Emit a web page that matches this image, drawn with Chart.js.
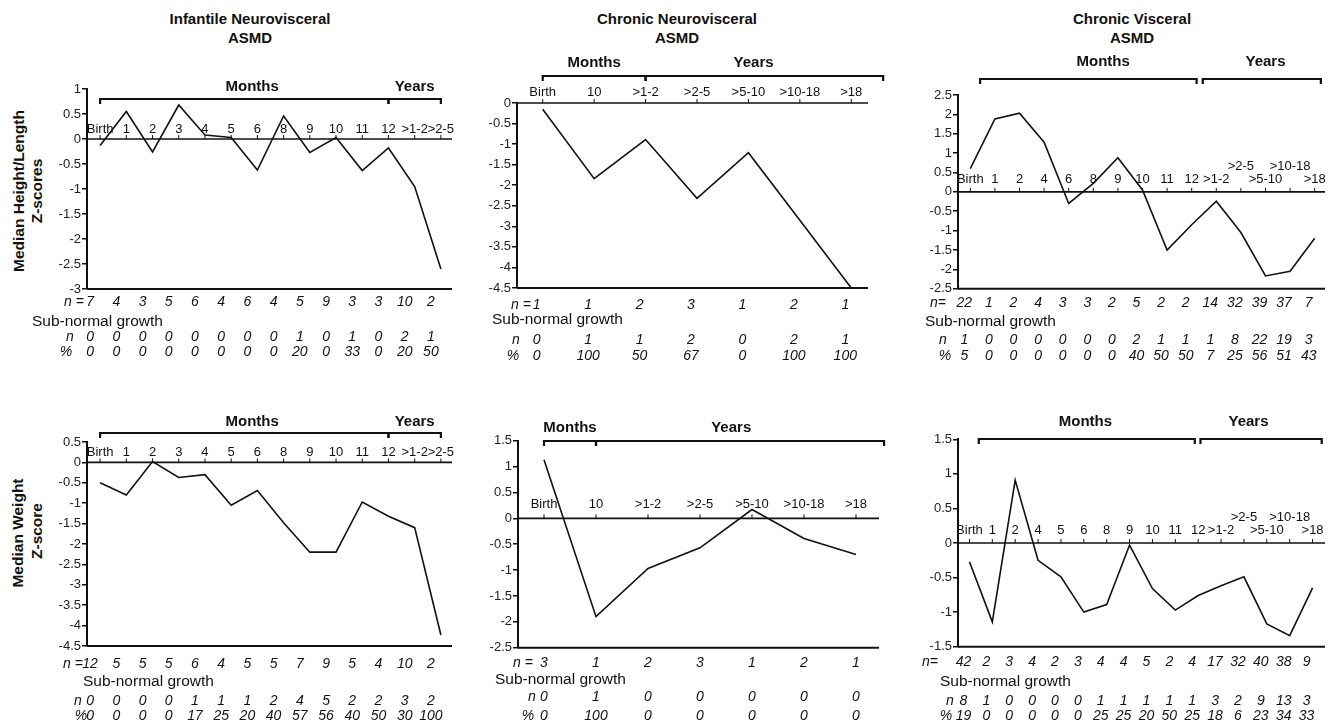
<!DOCTYPE html>
<html>
<head>
<meta charset="utf-8">
<script src="https://cdn.jsdelivr.net/npm/chart.js@4.4.1/dist/chart.umd.min.js"></script>
<style>
  body { margin: 0; background: #fff; width: 1330px; height: 728px; position: relative; overflow: hidden;
         font-family: "Liberation Sans", Arial, sans-serif; color: #111; }
  canvas { position: absolute; left: 0; top: 0; }
  .title { position: absolute; width: 300px; text-align: center; font-weight: bold; font-size: 15px; line-height: 18.5px; }
  .side { position: absolute; width: 240px; height: 18px; line-height: 18px; text-align: center;
          font-weight: bold; font-size: 15.5px; transform: rotate(-90deg); transform-origin: 50% 50%; }
</style>
</head>
<body>
<div class="title" style="left:100px;top:10px">Infantile Neurovisceral<br>ASMD</div>
<div class="title" style="left:527px;top:10px">Chronic Neurovisceral<br>ASMD</div>
<div class="title" style="left:982px;top:10px">Chronic Visceral<br>ASMD</div>
<div class="side" style="left:-101px;top:182px">Median Height/Length</div>
<div class="side" style="left:-83px;top:182px">Z-scores</div>
<div class="side" style="left:-102px;top:524px">Median Weight</div>
<div class="side" style="left:-83px;top:522px">Z-score</div>

<canvas id="c1" width="1330" height="728"></canvas>
<canvas id="c2" width="1330" height="728"></canvas>
<canvas id="c3" width="1330" height="728"></canvas>
<canvas id="c4" width="1330" height="728"></canvas>
<canvas id="c5" width="1330" height="728"></canvas>
<canvas id="c6" width="1330" height="728"></canvas>

<script>
// age categories
const catInfantile = ['Birth', '1', '2', '3', '4', '5', '6', '8', '9', '10', '11', '12', '>1-2', '>2-5'];
const catChronicNV = ['Birth', '10', '>1-2', '>2-5', '>5-10', '>10-18', '>18'];
const catVisceralHt = ['Birth', '1', '2', '4', '6', '8', '9', '10', '11', '12', '>1-2', '>2-5', '>5-10', '>10-18', '>18'];
const catVisceralWt = ['Birth', '1', '2', '4', '5', '6', '8', '9', '10', '11', '12', '>1-2', '>2-5', '>5-10', '>10-18', '>18'];

// height / length z-scores
const infHeight = [-0.13, 0.55, -0.26, 0.68, 0.08, 0.03, -0.62, 0.46, -0.27, 0.03, -0.63, -0.18, -0.95, -2.6];
const infHeightN = [7, 4, 3, 5, 6, 4, 6, 4, 5, 9, 3, 3, 10, 2];
const infHeightSubN = [0, 0, 0, 0, 0, 0, 0, 0, 1, 0, 1, 0, 2, 1];
const infHeightPct = [0, 0, 0, 0, 0, 0, 0, 0, 20, 0, 33, 0, 20, 50];

const cnvHeight = [-0.15, -1.84, -0.89, -2.32, -1.21, -2.85, -4.5];
const cnvHeightN = [1, 1, 2, 3, 1, 2, 1];
const cnvHeightSubN = [0, 1, 1, 2, 0, 2, 1];
const cnvHeightPct = [0, 100, 50, 67, 0, 100, 100];

const cvHeight = [0.6, 1.88, 2.03, 1.28, -0.3, 0.22, 0.88, 0.05, -1.5, -0.85, -0.24, -1.05, -2.17, -2.05, -1.2];
const cvHeightN = [22, 1, 2, 4, 3, 3, 2, 5, 2, 2, 14, 32, 39, 37, 7];
const cvHeightSubN = [1, 0, 0, 0, 0, 0, 0, 2, 1, 1, 1, 8, 22, 19, 3];
const cvHeightPct = [5, 0, 0, 0, 0, 0, 0, 40, 50, 50, 7, 25, 56, 51, 43];

// weight z-scores
const infWeight = [-0.5, -0.8, 0.02, -0.37, -0.3, -1.05, -0.69, -1.48, -2.2, -2.2, -0.97, -1.32, -1.6, -4.23];
const infWeightN = [12, 5, 5, 5, 6, 4, 5, 5, 7, 9, 5, 4, 10, 2];
const infWeightSubN = [0, 0, 0, 0, 1, 1, 1, 2, 4, 5, 2, 2, 3, 2];
const infWeightPct = [0, 0, 0, 0, 17, 25, 20, 40, 57, 56, 40, 50, 30, 100];

const cnvWeight = [1.13, -1.9, -0.97, -0.57, 0.17, -0.39, -0.7];
const cnvWeightN = [3, 1, 2, 3, 1, 2, 1];
const cnvWeightSubN = [0, 1, 0, 0, 0, 0, 0];
const cnvWeightPct = [0, 100, 0, 0, 0, 0, 0];

const cvWeight = [-0.27, -1.14, 0.91, -0.25, -0.49, -1.0, -0.89, -0.03, -0.66, -0.97, -0.76, -0.62, -0.49, -1.17, -1.34, -0.65];
const cvWeightN = [42, 2, 3, 4, 2, 3, 4, 4, 5, 2, 4, 17, 32, 40, 38, 9];
const cvWeightSubN = [8, 1, 0, 0, 0, 0, 1, 1, 1, 1, 1, 3, 2, 9, 13, 3];
const cvWeightPct = [19, 0, 0, 0, 0, 0, 25, 25, 20, 50, 25, 18, 6, 23, 34, 33];

const FONT = '"Liberation Sans", Arial, sans-serif';
const Y_WIDTH = 40;

// layout of each panel (page pixels)
const panels = [
  { id: 'c1', cats: catInfantile, vals: infHeight, n: infHeightN, subN: infHeightSubN, pct: infHeightPct,
    area: [87, 454, 89, 289], yMin: -3, yMax: 1, lineEnd: 452, labelDy: -10, upper: [],
    bracketY: 99, bracketLabelY: 87, segs: [[0, 11], [11, 13]], months: 5.8, years: 12,
    dx: -10, nY: 302, nLabel: 'n =', nLabelX: 74, sngX: 32, sngY: 322, subY: 337, subLabelX: 70, pctY: 352, pctLabelX: 66 },
  { id: 'c2', cats: catChronicNV, vals: cnvHeight, n: cnvHeightN, subN: cnvHeightSubN, pct: cnvHeightPct,
    area: [517, 877, 103, 288], yMin: -4.5, yMax: 0, lineEnd: 868, labelDy: -11, upper: [],
    bracketY: 76, bracketLabelY: 63, segs: [[0, 2], [2, 6.62]], months: 1.0, years: 4.1,
    dx: -6, nY: 305, nLabel: 'n =', nLabelX: 521, sngX: 492, sngY: 320, subY: 340, subLabelX: 516, pctY: 356, pctLabelX: 513 },
  { id: 'c3', cats: catVisceralHt, vals: cvHeight, n: cvHeightN, subN: cvHeightSubN, pct: cvHeightPct,
    area: [958, 1327, 95, 288.7], yMin: -2.5, yMax: 2.5, lineEnd: 1325, labelDy: -12, upper: [11, 13],
    bracketY: 79, bracketLabelY: 62, segs: [[0.4, 9.2], [9.45, 14.25]], months: 5.4, years: 12.0,
    dx: -6, nY: 303, nLabel: 'n=', nLabelX: 938, sngX: 925, sngY: 322, subY: 340, subLabelX: 943, pctY: 356, pctLabelX: 945 },
  { id: 'c4', cats: catInfantile, vals: infWeight, n: infWeightN, subN: infWeightSubN, pct: infWeightPct,
    area: [87, 454, 442, 646], yMin: -4.5, yMax: 0.5, lineEnd: 452, labelDy: -10, upper: [],
    bracketY: 433, bracketLabelY: 422, segs: [[0, 11], [11, 13]], months: 5.8, years: 12,
    dx: -10, nY: 664, nLabel: 'n =', nLabelX: 73, sngX: 83, sngY: 682, subY: 701, subLabelX: 78, pctY: 716, pctLabelX: 81 },
  { id: 'c5', cats: catChronicNV, vals: cnvWeight, n: cnvWeightN, subN: cnvWeightSubN, pct: cnvWeightPct,
    area: [518, 882, 440.7, 647.7], yMin: -2.5, yMax: 1.5, lineEnd: 879, labelDy: -14, upper: [],
    bracketY: 441, bracketLabelY: 428, segs: [[0, 1], [1, 6.54]], months: 0.5, years: 3.6,
    dx: 0, nY: 663, nLabel: 'n =', nLabelX: 523, sngX: 495, sngY: 680, subY: 697, subLabelX: 532, pctY: 716, pctLabelX: 528 },
  { id: 'c6', cats: catVisceralWt, vals: cvWeight, n: cvWeightN, subN: cvWeightSubN, pct: cvWeightPct,
    area: [958, 1324, 439.3, 646.7], yMin: -1.5, yMax: 1.5, lineEnd: 1325, labelDy: -13, upper: [12, 14],
    bracketY: 439, bracketLabelY: 422, segs: [[0.41, 9.85], [10.1, 15.4]], months: 5.07, years: 12.2,
    dx: -6, nY: 662, nLabel: 'n=', nLabelX: 930, sngX: 940, sngY: 682, subY: 701, subLabelX: 950, pctY: 716, pctLabelX: 946 }
];

function decor(p) {
  return {
    id: 'decor',
    afterDatasetsDraw(chart) {
      const ctx = chart.ctx, xs = chart.scales.x, ys = chart.scales.y, a = chart.chartArea;
      const X = i => xs.getPixelForValue(i);
      const seg = (x1, y1, x2, y2) => { ctx.beginPath(); ctx.moveTo(x1, y1); ctx.lineTo(x2, y2); ctx.stroke(); };
      ctx.save();
      ctx.strokeStyle = '#111';
      ctx.fillStyle = '#111';

      // bottom axis
      ctx.lineWidth = 2;
      seg(a.left, a.bottom, p.lineEnd, a.bottom);

      // zero line with category ticks and labels
      const y0 = ys.getPixelForValue(0);
      ctx.lineWidth = 1.6;
      seg(a.left, y0, p.lineEnd, y0);
      ctx.lineWidth = 1;
      p.cats.forEach((c, i) => seg(X(i), y0, X(i), y0 - 4));
      ctx.font = '13px ' + FONT;
      ctx.textAlign = 'center';
      ctx.textBaseline = 'middle';
      p.cats.forEach((c, i) => {
        const up = p.upper.includes(i);
        ctx.fillText(c, X(i), y0 + p.labelDy - (up ? 13 : 0));
      });

      // Months / Years brackets
      ctx.lineWidth = 2.2;
      p.segs.forEach(s => {
        const x1 = X(s[0]), x2 = X(s[1]);
        ctx.beginPath();
        ctx.moveTo(x1, p.bracketY + 5);
        ctx.lineTo(x1, p.bracketY);
        ctx.lineTo(x2, p.bracketY);
        ctx.lineTo(x2, p.bracketY + 5);
        ctx.stroke();
      });
      ctx.font = 'bold 15px ' + FONT;
      ctx.fillText('Months', X(p.months), p.bracketLabelY);
      ctx.fillText('Years', X(p.years), p.bracketLabelY);

      // sample size and sub-normal growth rows
      ctx.font = 'italic 14px ' + FONT;
      ctx.fillText(p.nLabel, p.nLabelX, p.nY);
      p.n.forEach((v, i) => ctx.fillText(String(v), X(i) + p.dx, p.nY));
      ctx.fillText('n', p.subLabelX, p.subY);
      p.subN.forEach((v, i) => ctx.fillText(String(v), X(i) + p.dx, p.subY));
      ctx.fillText('%', p.pctLabelX, p.pctY);
      p.pct.forEach((v, i) => ctx.fillText(String(v), X(i) + p.dx, p.pctY));
      ctx.font = '15.5px ' + FONT;
      ctx.textAlign = 'left';
      ctx.fillText('Sub-normal growth', p.sngX, p.sngY);
      ctx.restore();
    }
  };
}

panels.forEach(p => {
  const [L, R, T, B] = p.area;
  new Chart(document.getElementById(p.id).getContext('2d'), {
    type: 'line',
    data: {
      labels: p.cats,
      datasets: [{
        data: p.vals,
        borderColor: '#111',
        borderWidth: 1.6,
        pointRadius: 0,
        tension: 0,
        clip: false
      }]
    },
    options: {
      responsive: false,
      animation: false,
      devicePixelRatio: 1,
      layout: { padding: { left: L - Y_WIDTH, right: 1330 - R, top: T, bottom: 728 - B } },
      plugins: { legend: { display: false }, tooltip: { enabled: false } },
      scales: {
        x: { type: 'category', display: false, offset: true },
        y: {
          min: p.yMin,
          max: p.yMax,
          afterFit: s => { s.width = Y_WIDTH; },
          border: { display: true, color: '#111', width: 2 },
          grid: { drawOnChartArea: false, drawTicks: true, tickLength: 5, color: '#111', lineWidth: 1.5 },
          ticks: {
            stepSize: 0.5,
            padding: 1,
            color: '#222',
            font: { family: FONT, size: 13 },
            callback: v => String(Math.round(v * 10) / 10)
          }
        }
      }
    },
    plugins: [decor(p)]
  });
});
</script>
</body>
</html>
